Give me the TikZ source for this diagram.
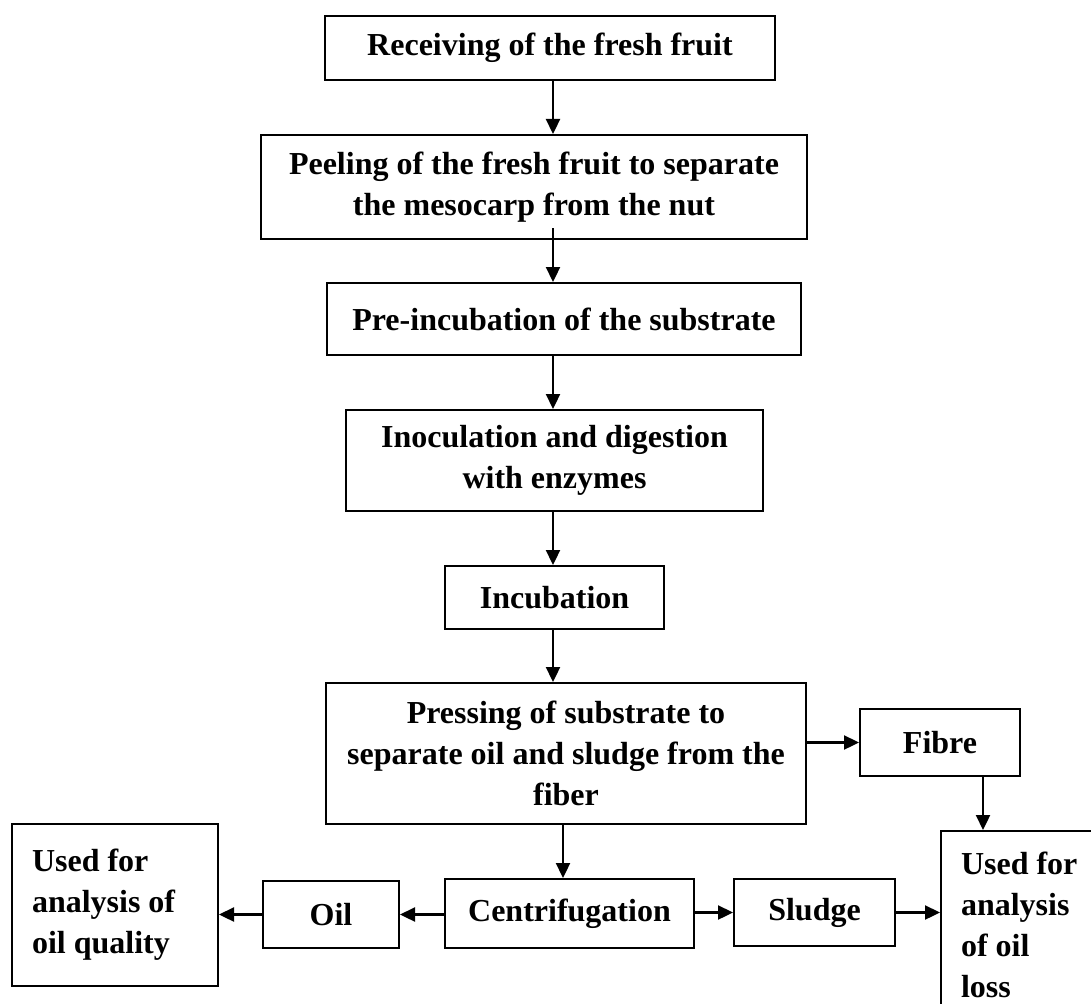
\documentclass[tikz,border=0pt]{standalone}
\usepackage{fontspec}
\setmainfont{Liberation Serif}
\usetikzlibrary{arrows.meta}
\begin{document}
\begin{tikzpicture}[x=1pt,y=-1pt,
  box/.style={draw, line width=2pt, inner sep=0pt, align=center,
    font=\bfseries\fontsize{32}{41}\selectfont},
  sidebox/.style={box, align=flush left, inner xsep=20pt, inner ysep=0pt},
  arr/.style={line width=2.3pt, -{Triangle[length=15pt,width=14pt]}}]
\useasboundingbox (0,0) rectangle (1091,1003);
\clip (0,0) rectangle (1091,1003);
\node[box, minimum width=450pt, minimum height=64pt] (recv) at (550,48) {Receiving of the fresh fruit};
\node[box, minimum width=546pt, minimum height=104pt] (peel) at (534,187) {Peeling of the fresh fruit to separate\\the mesocarp from the nut};
\node[box, minimum width=474pt, minimum height=72pt] (preinc) at (564,319) {Pre-incubation of the substrate};
\node[box, minimum width=417pt, minimum height=101pt] (inoc) at (554.5,460.5) {Inoculation and digestion\\with enzymes};
\node[box, minimum width=219pt, minimum height=63pt] (incub) at (554.5,597.5) {Incubation};
\node[box, minimum width=480pt, minimum height=141pt] (press) at (566,753.5) {Pressing of substrate to\\separate oil and sludge from the\\fiber};
\node[box, minimum width=160pt, minimum height=67pt] (fibre) at (940,742.5) {Fibre};
\node[sidebox, text width=140pt, minimum height=188pt, anchor=north west] (rbox) at (940,830) {Used for\\analysis\\of oil\\loss};
\node[box, minimum width=249pt, minimum height=69pt] (centrif) at (569.5,913.5) {Centrifugation};
\node[box, minimum width=136pt, minimum height=67pt] (oil) at (331,914.5) {Oil};
\node[sidebox, text width=166pt, minimum height=162pt] (lbox) at (115,905) {Used for\\analysis of\\oil quality};
\node[box, minimum width=161pt, minimum height=67pt] (sludge) at (814.5,912.5) {Sludge};

\coordinate (colA) at (553,0);
\coordinate (colB) at (563,0);
\coordinate (colC) at (983,0);

\draw[arr] (colA |- recv.south) -- (colA |- peel.north);
\draw[arr] ([yshift=12pt]colA |- peel.south) -- (colA |- preinc.north);
\draw[arr] (colA |- preinc.south) -- (colA |- inoc.north);
\draw[arr] (colA |- inoc.south) -- (colA |- incub.north);
\draw[arr] (colA |- incub.south) -- (colA |- press.north);
\draw[arr] (press.east |- fibre.west) -- (fibre.west);
\draw[arr] (colC |- fibre.south) -- (colC |- rbox.north);
\draw[arr] (colB |- press.south) -- (colB |- centrif.north);
\draw[arr] (centrif.west |- oil.west) -- (oil.east);
\draw[arr] (oil.west) -- (lbox.east |- oil.west);
\draw[arr] (centrif.east |- sludge.west) -- (sludge.west);
\draw[arr] (sludge.east) -- (rbox.west |- sludge.east);
\end{tikzpicture}
\end{document}
